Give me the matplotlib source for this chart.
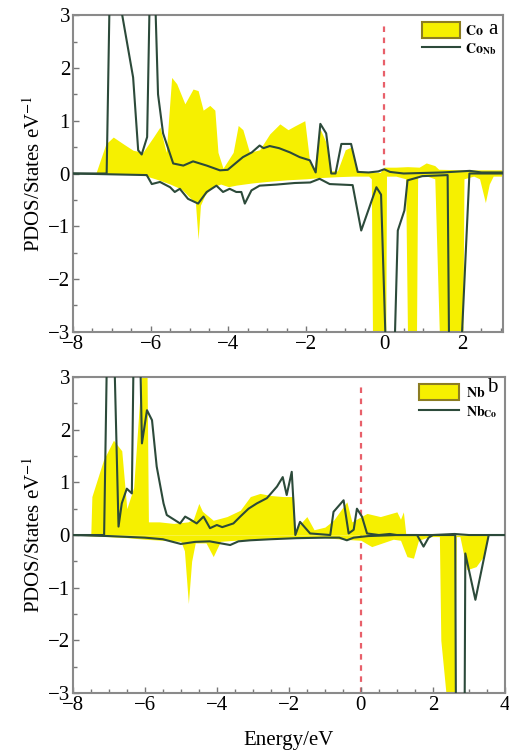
import matplotlib
matplotlib.use('Agg')
import matplotlib.pyplot as plt
from matplotlib.patches import Patch
from matplotlib.lines import Line2D
from matplotlib.ticker import MultipleLocator

plt.rcParams['font.family'] = 'serif'
plt.rcParams['font.serif'] = ['Liberation Serif', 'DejaVu Serif']
plt.rcParams['mathtext.fontset'] = 'stix'

# ---- panel a: Co ----
co_up_E = [-8, -7.4, -7.15, -6.96, -6.7, -6.45, -6.2, -5.93, -5.76, -5.6, -5.46, -5.33, -5.12,
           -4.91, -4.78, -4.65, -4.48, -4.35, -4.27, -4.14, -3.88, -3.75, -3.63, -3.46, -3.2,
           -2.94, -2.68, -2.47, -2.3, -2.17, -2.04, -1.91, -1.8, -1.65, -1.5, -1.36, -1.2,
           -1.0, -0.85, -0.68, -0.4, -0.1, 0.0, 0.3, 0.6, 0.9, 1.08, 1.3, 1.4, 2.0, 2.5, 3.05]
co_up = [0, 0.02, 0.56, 0.69, 0.56, 0.44, 0.4, 0.69, 0.88, 0.4, 1.82, 1.7, 1.32,
         1.6, 1.57, 1.2, 1.29, 1.2, 0.4, 0.1, 0.4, 0.91, 0.83, 0.4, 0.45,
         0.75, 0.94, 0.83, 0.9, 0.95, 1.0, 0.2, 0.1, 0.85, 0.6, 0.05, 0.05,
         0.45, 0.5, 0.05, 0.03, 0.02, 0.12, 0.12, 0.13, 0.12, 0.2, 0.15, 0.08, 0.07, 0.07, 0.07]

co_dn_E = [-8, -6.3, -6.1, -5.8, -5.5, -5.2, -5.0, -4.85, -4.78, -4.72, -4.6, -4.4, -4.2, -4.0,
           -3.8, -3.6, -3.4, -3.0, -2.5, -2.0, -1.7, -1.2, -0.8, -0.6, -0.4, -0.33, -0.3, 0.04,
           0.06, 0.3, 0.55, 0.6, 0.83, 0.86, 1.1, 1.3, 1.42, 2.02, 2.05, 2.3, 2.45, 2.6, 2.7,
           2.8, 3.05]
co_dn = [0, 0, -0.05, -0.12, -0.2, -0.3, -0.45, -0.55, -1.25, -0.6, -0.4, -0.25, -0.2, -0.25,
         -0.22, -0.2, -0.18, -0.15, -0.12, -0.1, -0.08, -0.06, -0.05, -0.05, -0.05, -0.1, -3.1, -3.1,
         -0.05, -0.05, -0.1, -3.1, -3.1, -0.05, -0.05, -0.1, -3.1, -3.1, -0.1, -0.05, -0.1, -0.55, -0.2,
         -0.05, -0.05]

conb_up_E = [-8, -7.13, -7.05, -6.85, -6.73, -6.45, -6.32, -6.23, -6.09, -6.02, -5.89, -5.81,
             -5.68, -5.42, -5.16, -4.91, -4.56, -4.22, -4.02, -3.63, -3.4, -3.2, -3.1, -2.94,
             -2.7, -2.42, -2.17, -1.91, -1.76, -1.64, -1.49, -1.36, -1.25, -1.1, -0.85, -0.68,
             -0.4, -0.15, 0.0, 0.15, 0.5, 1.0, 1.5, 2.2, 2.5, 3.05]
conb_up = [0, 0, 3.5, 3.4, 3.0, 1.82, 0.44, 0.36, 0.69, 3.5, 3.5, 1.5,
           0.76, 0.19, 0.15, 0.23, 0.15, 0.06, 0.07, 0.31, 0.4, 0.53, 0.48, 0.52,
           0.48, 0.4, 0.31, 0.25, 0.02, 0.94, 0.76, 0.0, 0.0, 0.56, 0.56, 0.03,
           0.02, 0.04, 0.08, 0.03, 0.0, 0.01, 0.02, 0.05, 0.02, 0.02]

conb_dn_E = [-8, -6.1, -5.97, -5.76, -5.5, -5.38, -5.25, -5.04, -4.78, -4.56, -4.31, -4.14,
             -3.97, -3.8, -3.67, -3.58, -3.41, -3.2, -2.77, -2.3, -1.9, -1.66, -1.4, -0.81,
             -0.59, -0.2, -0.08, 0.05, 0.26, 0.35, 0.52, 0.6, 0.98, 1.63, 1.67, 1.97, 2.19,
             2.6, 3.05]
conb_dn = [0, -0.03, -0.2, -0.16, -0.26, -0.35, -0.29, -0.48, -0.57, -0.35, -0.23, -0.35,
           -0.29, -0.35, -0.35, -0.57, -0.32, -0.23, -0.21, -0.18, -0.17, -0.1, -0.2, -0.22,
           -1.08, -0.26, -0.4, -3.5, -3.5, -1.08, -0.7, -0.13, -0.05, -0.03, -3.5, -3.5, 0.0,
           0.0, 0.0]

# ---- panel b: Nb ----
nb_up_E = [-8, -7.5, -7.47, -7.15, -6.87, -6.64, -6.5, -6.31, -6.18, -6.08, -5.94, -5.9, -5.6,
           -5.2, -4.8, -4.65, -4.5, -4.4, -4.1, -3.72, -3.35, -3.07, -2.8, -2.5, -2.15, -1.87,
           -1.83, -1.5, -1.3, -1.0, -0.76, -0.39, -0.25, 0.17, 0.54, 1.0, 1.1, 1.18, 1.25, 4]
nb_up = [0, 0, 0.73, 1.42, 1.8, 1.6, 0.5, 0.9, 2.2, 3.2, 3.2, 0.25, 0.25,
         0.22, 0.25, 0.3, 0.6, 0.45, 0.28, 0.35, 0.47, 0.73, 0.79, 0.75, 0.73, 0.73,
         0.1, 0.35, 0.1, 0.15, 0.28, 0.63, 0.25, 0.41, 0.35, 0.44, 0.3, 0.44, 0.0, 0.0]

nb_dn_E = [-8, -7.3, -6.5, -6.0, -5.5, -5.0, -4.9, -4.79, -4.7, -4.6, -4.3, -4.1, -3.9, -3.5,
           -3.0, -2.5, -2.0, -1.5, -1.0, -0.5, 0.0, 0.3, 0.6, 0.9, 1.1, 1.28, 1.46, 1.6, 1.9,
           2.18, 2.22, 2.3, 2.39, 2.6, 2.65, 2.75, 2.94, 3.2, 3.4, 3.55, 4]
nb_dn = [0, -0.02, -0.05, -0.08, -0.1, -0.12, -0.3, -1.3, -0.5, -0.15, -0.15, -0.41, -0.12, -0.1,
         -0.08, -0.06, -0.05, -0.05, -0.05, -0.08, -0.1, -0.22, -0.15, -0.08, -0.1, -0.41, -0.44,
         -0.1, -0.03, -0.03, -2.0, -2.56, -3.2, -3.2, -0.03, -0.03, -0.66, -0.6, -0.41, 0.0, 0.0]

nbco_up_E = [-8, -7.13, -7.05, -6.85, -6.73, -6.64, -6.5, -6.36, -6.31, -6.13, -6.08, -5.94,
             -5.8, -5.67, -5.48, -5.39, -5.02, -4.88, -4.75, -4.56, -4.37, -4.19, -4.0, -3.85,
             -3.54, -3.35, -3.12, -2.89, -2.61, -2.33, -2.17, -2.06, -1.92, -1.82, -1.69, -1.41,
             -0.85, -0.76, -0.48, -0.34, -0.2, -0.11, 0.03, 0.17, 0.5, 0.8, 1.0, 2.0, 2.6, 3.0,
             3.6, 4]
nbco_up = [0, 0, 3.5, 3.5, 0.16, 0.6, 0.88, 0.79, 3.5, 3.5, 1.74, 2.37,
           2.18, 1.3, 0.6, 0.38, 0.22, 0.35, 0.3, 0.22, 0.35, 0.13, 0.19, 0.15,
           0.22, 0.35, 0.5, 0.6, 0.7, 0.92, 1.1, 0.76, 1.2, 0.0, 0.25, 0.03,
           0.0, 0.44, 0.66, 0.03, 0.1, 0.5, 0.35, 0.03, 0.0, 0.02, 0.0, 0.0, 0.02, 0.0,
           0.0, 0.0]

nbco_dn_E = [-8, -7.0, -6.0, -5.5, -5.0, -4.6, -4.2, -3.63, -3.4, -3.07, -2.5, -1.8, -1.0,
             -0.6, -0.39, -0.2, 0.2, 1.0, 1.56, 1.74, 1.88, 2.0, 2.62, 2.64, 2.88, 2.9, 3.18,
             3.55, 4]
nbco_dn = [0, -0.02, -0.05, -0.08, -0.17, -0.13, -0.12, -0.19, -0.12, -0.1, -0.08, -0.06, -0.05,
           -0.05, -0.1, -0.05, -0.02, 0.0, 0.0, -0.22, -0.05, 0.0, 0.0, -3.5, -3.5, -0.35, -1.23,
           0.0, 0.0]

yellow = '#f6f000'
green = '#2c4a3a'
red = '#e8606a'

fig = plt.figure(figsize=(5.09, 7.56), dpi=100)
ax1 = fig.add_axes([0.143, 0.561, 0.845, 0.419])
ax2 = fig.add_axes([0.143, 0.0833, 0.849, 0.418])


def draw(ax, uE, u, dE, d, luE, lu, ldE, ld, xmax, xticks):
    ax.axvline(0, ymax=0.967, color=red, ls=(0, (2.5, 2.5)), lw=1.6, zorder=1)
    ax.fill_between(uE, 0, u, color=yellow, lw=0, zorder=2)
    ax.fill_between(dE, 0, d, color=yellow, lw=0, zorder=2)
    ax.plot(luE, lu, color=green, lw=1.5, zorder=3)
    ax.plot(ldE, ld, color=green, lw=1.5, zorder=3)
    ax.set_xlim(-8, xmax)
    ax.set_ylim(-3, 3)
    ax.set_xticks(xticks)
    ax.set_yticks([-3, -2, -1, 0, 1, 2, 3])
    ax.xaxis.set_minor_locator(MultipleLocator(0.5))
    ax.yaxis.set_minor_locator(MultipleLocator(0.5))
    ax.tick_params(which='both', direction='in', labelsize=15, color='#777777', pad=2)
    ax.tick_params(which='major', length=4, width=1)
    ax.tick_params(which='minor', length=3, width=1)
    for s in ax.spines.values():
        s.set_color('#8a8a8a')
        s.set_linewidth(1.5)
    ax.set_ylabel('PDOS/States eV$^{-1}$', fontsize=15, labelpad=2)


draw(ax1, co_up_E, co_up, co_dn_E, co_dn, conb_up_E, conb_up, conb_dn_E, conb_dn,
     3.05, [-8, -6, -4, -2, 0, 2])
draw(ax2, nb_up_E, nb_up, nb_dn_E, nb_dn, nbco_up_E, nbco_up, nbco_dn_E, nbco_dn,
     4, [-8, -6, -4, -2, 0, 2, 4])
ax2.set_xlabel('Energy/eV', fontsize=15, labelpad=12)

patch = Patch(facecolor=yellow, edgecolor='#8c7d22', lw=1.5)
line = Line2D([], [], color=green, lw=1.5)

ax1.legend([patch, line], [r'$\mathbf{Co}$', r'$\mathbf{Co}_{\mathbf{Nb}}$'],
           loc='upper left', bbox_to_anchor=(0.811, 0.978), frameon=False,
           borderpad=0, borderaxespad=0, handlelength=2.8, handleheight=1.4,
           handletextpad=0.3, labelspacing=0.15, fontsize=10)
ax1.text(0.966, 0.955, 'a', transform=ax1.transAxes, fontsize=15, ha='left', va='center')

ax2.legend([patch, line], [r'$\mathbf{Nb}$', r'$\mathbf{Nb}_{\mathbf{Co}}$'],
           loc='upper left', bbox_to_anchor=(0.801, 0.978), frameon=False,
           borderpad=0, borderaxespad=0, handlelength=2.9, handleheight=1.4,
           handletextpad=0.5, labelspacing=0.25, fontsize=10)
ax2.text(0.958, 0.968, 'b', transform=ax2.transAxes, fontsize=15, ha='left', va='center')

fig.savefig('out.png', dpi=100)
